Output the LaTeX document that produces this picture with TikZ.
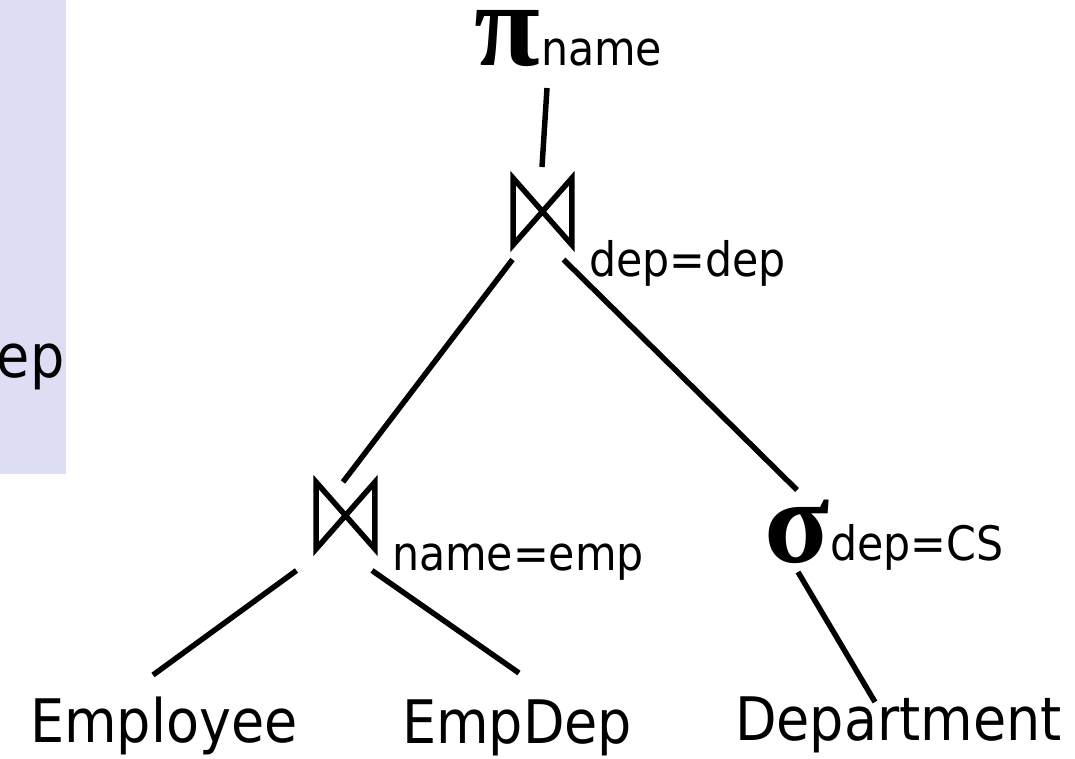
\documentclass[tikz,border=0pt]{standalone}
\usepackage{fontspec}
\setmainfont{DejaVu Sans}[FakeStretch=0.9]
\newfontfamily\opfont{Liberation Serif}[BoldFont={Liberation Serif Bold}]
\definecolor{boxlav}{RGB}{221,221,243}
\begin{document}
\begin{tikzpicture}[x=0.75pt,y=-0.75pt,
  lab/.style={inner sep=0pt,outer sep=0pt,anchor=base west,font=\fontsize{45pt}{50pt}\selectfont},
  sub/.style={inner sep=0pt,outer sep=0pt,anchor=base west,font=\fontsize{35.6pt}{40pt}\selectfont},
  optxt/.style={inner sep=0pt,outer sep=0pt,anchor=base west,text height=42pt,text depth=1pt,font=\fontsize{90pt}{90pt}\opfont\bfseries},
  bowtie/.style={inner sep=0pt,outer sep=0pt,minimum width=44pt,minimum height=50pt},
  conn/.style={line width=4.1pt}]
\useasboundingbox (0,0) rectangle (1075,758);
\fill[boxlav] (0,0) rectangle (66,474);
\begin{scope}
\clip (0,0) rectangle (66,474);
\node[lab] (boxtxt) at (-3,377) {ep};
\end{scope}
% operator nodes
\node[optxt] (proj) at (474,65) {π};
\node[sub] (pname) at (541,65) {name};
\node[bowtie] (j1) at (542.5,211.5) {};
\node[sub] (c1) at (589,276) {dep=dep};
\node[bowtie] (j2) at (345.5,515.5) {};
\node[sub] (c2) at (392,570) {name=emp};
\node[optxt] (sel) at (764,562) {σ};
\node[sub] (c3) at (830,560) {dep=CS};
% leaves
\node[lab] (emp) at (30,742) {Employee};
\node[lab] (empdep) at (402,743) {EmpDep};
\node[lab] (dept) at (735,740) {Department};
% bowtie glyphs
\foreach \j in {j1,j2}{
  \draw[line width=4.1pt,miter limit=3] (\j.north west) -- (\j.south east) -- (\j.north east) -- (\j.south west) -- cycle;
}
% connectors
\draw[conn] ([shift={(73,23)}]proj.base west) -- ([shift={(-0.5,-44.5)}]j1.center);
\draw[conn] ([shift={(-30,48)}]j1.center) -- ([shift={(-2.5,-33.5)}]j2.center);
\draw[conn] ([shift={(21,48)}]j1.center) -- ([shift={(33,-72)}]sel.base west);
\draw[conn] ([shift={(-49,55)}]j2.center) -- ([shift={(123,-67)}]emp.base west);
\draw[conn] ([shift={(26.5,55)}]j2.center) -- ([shift={(117,-70)}]empdep.base west);
\draw[conn] ([shift={(34,10)}]sel.base west) -- ([shift={(140,-38)}]dept.base west);
\end{tikzpicture}
\end{document}
